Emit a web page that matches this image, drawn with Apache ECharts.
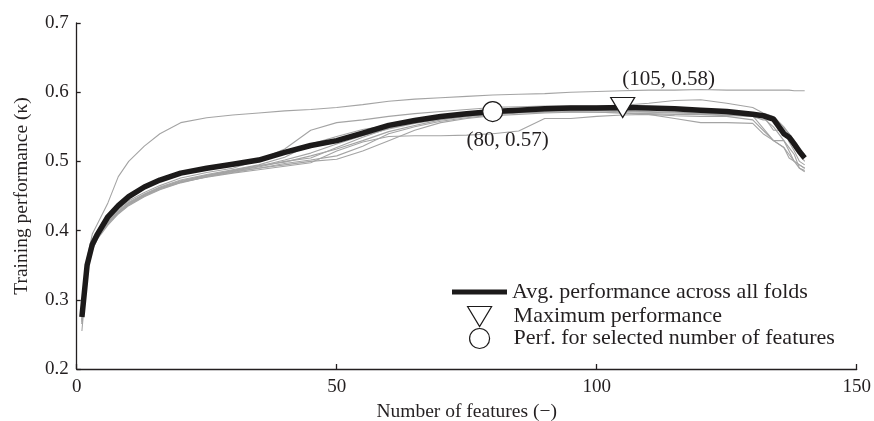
<!DOCTYPE html>
<html>
<head>
<meta charset="utf-8">
<script src="https://cdn.jsdelivr.net/npm/echarts@6/dist/echarts.min.js"></script>
<style>html,body{margin:0;padding:0;background:#fff}#c{width:874px;height:421px}</style>
</head>
<body>
<div id="c"></div>
<script>
// ---- data ----
const foldX = [1,2,3,4,6,8,10,13,16,20, 25,30,35,40,45,50,55,60,65,70, 75,80,85,90,95,100,105,110,115,120, 125,130,132,134,136,137,138,139,140];
const avgY = [0.275,0.35,0.38,0.395,0.42,0.436,0.449,0.463,0.473,0.483, 0.490,0.496,0.502,0.513,0.523,0.530,0.541,0.552,0.559,0.565, 0.569,0.572,0.574,0.576,0.577,0.577,0.578,0.577,0.576,0.574, 0.572,0.568,0.566,0.561,0.540,0.535,0.525,0.514,0.505];
const fold1 = [0.265,0.36,0.395,0.41,0.44,0.478,0.50,0.522,0.54,0.556, 0.563,0.567,0.570,0.573,0.575,0.578,0.582,0.587,0.590,0.592, 0.594,0.596,0.597,0.598,0.600,0.601,0.602,0.603,0.603,0.604, 0.603,0.603,0.603,0.603,0.603,0.603,0.602,0.602,0.602];
const fold2 = [0.255,0.34,0.375,0.39,0.41,0.425,0.437,0.45,0.46,0.47, 0.477,0.483,0.488,0.493,0.498,0.515,0.528,0.536,0.537,0.537, 0.538,0.540,0.544,0.562,0.562,0.565,0.567,0.568,0.566,0.565, 0.565,0.56,0.545,0.53,0.52,0.505,0.50,0.495,0.49];
const fold3 = [0.28,0.355,0.385,0.40,0.418,0.432,0.443,0.455,0.465,0.476, 0.484,0.49,0.502,0.518,0.545,0.556,0.56,0.565,0.569,0.572, 0.575,0.578,0.579,0.58,0.58,0.58,0.581,0.584,0.588,0.589, 0.584,0.578,0.57,0.565,0.55,0.54,0.53,0.52,0.51];
const fold4 = [0.27,0.345,0.378,0.392,0.412,0.428,0.44,0.452,0.462,0.472, 0.48,0.486,0.492,0.50,0.505,0.52,0.535,0.548,0.556,0.562, 0.566,0.57,0.572,0.573,0.574,0.574,0.573,0.572,0.571,0.57, 0.568,0.565,0.56,0.56,0.54,0.54,0.52,0.51,0.50];
const fold5 = [0.265,0.34,0.372,0.388,0.408,0.424,0.436,0.449,0.459,0.469, 0.478,0.485,0.49,0.497,0.502,0.508,0.522,0.54,0.55,0.558, 0.563,0.567,0.57,0.571,0.572,0.571,0.57,0.569,0.568,0.568, 0.566,0.566,0.548,0.53,0.53,0.515,0.50,0.49,0.485];
const fold6 = [0.275,0.348,0.38,0.394,0.413,0.427,0.438,0.451,0.461,0.47, 0.479,0.486,0.493,0.502,0.512,0.525,0.537,0.547,0.555,0.561, 0.565,0.568,0.571,0.572,0.575,0.576,0.576,0.575,0.574,0.573, 0.571,0.568,0.566,0.545,0.545,0.528,0.515,0.50,0.495];
const fold7 = [0.27,0.342,0.376,0.39,0.41,0.426,0.438,0.45,0.46,0.47, 0.478,0.484,0.49,0.495,0.50,0.503,0.515,0.53,0.545,0.556, 0.562,0.566,0.568,0.57,0.571,0.571,0.57,0.568,0.562,0.556, 0.556,0.555,0.54,0.53,0.52,0.51,0.50,0.495,0.49];
const fold8 = [0.272,0.346,0.379,0.393,0.414,0.43,0.441,0.453,0.463,0.473, 0.481,0.488,0.495,0.506,0.525,0.536,0.546,0.552,0.558,0.563, 0.567,0.57,0.573,0.574,0.576,0.577,0.577,0.576,0.575,0.574, 0.572,0.569,0.567,0.56,0.548,0.54,0.53,0.515,0.505];
const fold9 = [0.268,0.344,0.377,0.391,0.411,0.427,0.439,0.452,0.462,0.471, 0.48,0.487,0.494,0.499,0.508,0.518,0.53,0.543,0.552,0.56, 0.565,0.569,0.572,0.573,0.573,0.573,0.572,0.571,0.57,0.569, 0.567,0.565,0.563,0.55,0.53,0.52,0.51,0.49,0.487];
const folds = [fold1, fold2, fold3, fold4, fold5, fold6, fold7, fold8, fold9];
const maxPoint = [105, 0.578];
const maxLabel = '(105, 0.58)';
const selPoint = [80, 0.572];
const selLabel = '(80, 0.57)';
const xTicks = [0, 50, 100, 150];
const yTicks = [0.2, 0.3, 0.4, 0.5, 0.6, 0.7];
const legendNames = ['Avg. performance across all folds', 'Maximum performance', 'Perf. for selected number of features'];

// ---- chart ----
const FONT = "'Liberation Serif', 'Times New Roman', serif";
const TXT = '#231f20';
const zip = (xs, ys) => xs.map((x, i) => [x, ys[i]]);
const triPath = 'path://M0,0 L24,0 L12,20 Z';

const series = folds.map((f, i) => ({
  name: 'Fold ' + (i + 1), type: 'line', data: zip(foldX, f),
  showSymbol: false, symbol: 'none', silent: true,
  lineStyle: { color: '#a4a4a4', width: 1.1 }, z: 2
}));
series.push({
  name: legendNames[0], type: 'line', data: zip(foldX, avgY),
  showSymbol: false, symbol: 'none',
  itemStyle: { color: '#1c1a1a' },
  lineStyle: { color: '#1c1a1a', width: 5.5, join: 'round' }, z: 3
});
series.push({
  name: legendNames[1], type: 'scatter', data: [maxPoint],
  symbol: triPath, symbolSize: [24, 20],
  itemStyle: { color: '#fff', borderColor: '#1c1a1a', borderWidth: 1.2, opacity: 1 },
  label: { show: true, formatter: maxLabel, position: 'inside', offset: [46, -28],
           fontFamily: FONT, fontSize: 21, color: TXT }, z: 5
});
series.push({
  name: legendNames[2], type: 'scatter', data: [selPoint],
  symbol: 'circle', symbolSize: 20,
  itemStyle: { color: '#fff', borderColor: '#1c1a1a', borderWidth: 1.2, opacity: 1 },
  label: { show: true, formatter: selLabel, position: 'inside', offset: [15, 29],
           fontFamily: FONT, fontSize: 21, color: TXT }, z: 5
});

const legendItemStyle = { color: '#fff', borderColor: '#1c1a1a', borderWidth: 1.2 };
const option = {
  animation: false,
  backgroundColor: '#fff',
  grid: { left: 76.7, right: 17.3, top: 23, bottom: 52, containLabel: false, outerBoundsMode: 'none' },
  xAxis: {
    type: 'value', min: xTicks[0], max: xTicks[xTicks.length - 1], interval: 50,
    name: 'Number of features (\u2212)', nameLocation: 'middle', nameGap: 31,
    nameTextStyle: { fontFamily: FONT, fontSize: 19.5, color: TXT },
    axisLine: { onZero: false, lineStyle: { color: '#231f20', width: 1.3 } },
    axisTick: { inside: true, length: 5, lineStyle: { color: '#231f20', width: 1.3 } },
    axisLabel: { fontFamily: FONT, fontSize: 19, color: TXT, margin: 9 },
    splitLine: { show: false }
  },
  yAxis: {
    type: 'value', min: yTicks[0], max: yTicks[yTicks.length - 1], interval: 0.1,
    name: 'Training performance (\u03ba)', nameLocation: 'middle', nameGap: 45,
    nameTextStyle: { fontFamily: FONT, fontSize: 19.5, color: TXT },
    axisLine: { show: true, onZero: false, lineStyle: { color: '#231f20', width: 1.3 } },
    axisTick: { show: true, inside: true, length: 4, lineStyle: { color: '#231f20', width: 1.3 } },
    axisLabel: { fontFamily: FONT, fontSize: 19, color: TXT, margin: 8, formatter: v => v.toFixed(1) },
    splitLine: { show: false }
  },
  legend: [
    {
      data: [{ name: legendNames[0], icon: 'rect' }],
      left: 452, top: 281, itemWidth: 55, itemHeight: 5, selectedMode: false,
      padding: 0, textStyle: { fontFamily: FONT, fontSize: 22, color: TXT }
    },
    {
      data: [
        { name: legendNames[1], icon: triPath, itemStyle: legendItemStyle },
        { name: legendNames[2], icon: 'circle', itemStyle: legendItemStyle }
      ],
      orient: 'vertical', left: 467, top: 305.5, itemWidth: 24, itemHeight: 20, itemGap: 0,
      selectedMode: false, padding: 0,
      textStyle: { fontFamily: FONT, fontSize: 22, color: TXT, padding: [0, 0, 0, 17] }
    }
  ],
  series: series
};
const chart = echarts.init(document.getElementById('c'), null, { renderer: 'canvas' });
chart.setOption(option);
</script>
</body>
</html>
